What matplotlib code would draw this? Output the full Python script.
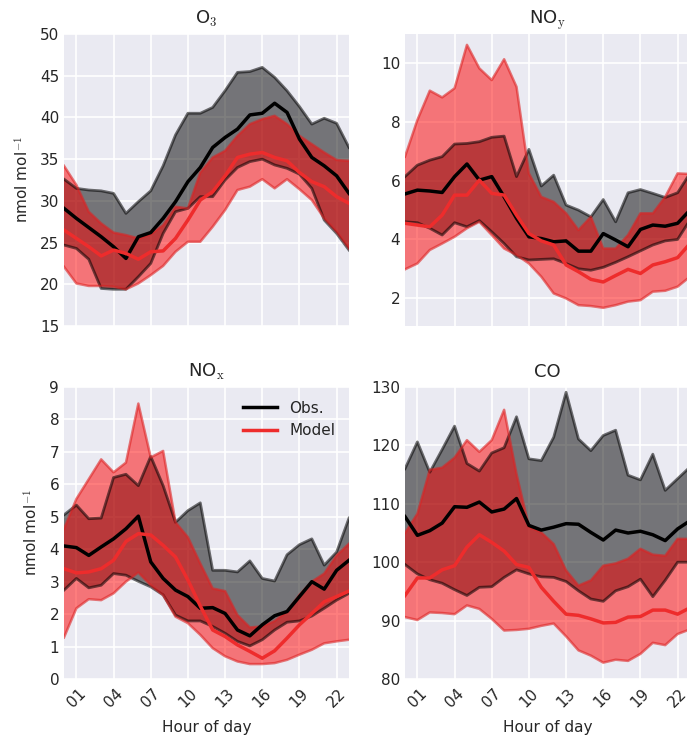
import numpy as np
import matplotlib
matplotlib.use("Agg")
import matplotlib.pyplot as plt

# ---------------------------------------------------------------------
# diurnal cycles (hour 0..23): obs / model, lower bound, median, upper
# ---------------------------------------------------------------------
hours = np.arange(24)
tick_hours = [1, 4, 7, 10, 13, 16, 19, 22]
tick_labels = ["01", "04", "07", "10", "13", "16", "19", "22"]

o3_obs_lo = [24.7, 24.3, 23.0, 19.5, 19.4, 19.4, 20.9, 22.5, 26.1, 28.7, 29.1, 30.5,
             30.5, 32.5, 34.0, 34.7, 35.0, 34.3, 33.9, 33.2, 31.5, 27.7, 26.1, 24.1]
o3_obs_med = [29.1, 27.9, 26.8, 25.7, 24.5, 23.1, 25.7, 26.2, 27.9, 29.9, 32.3, 34.0,
              36.4, 37.6, 38.6, 40.3, 40.5, 41.7, 40.6, 37.4, 35.2, 34.2, 33.0, 30.9]
o3_obs_hi = [32.6, 31.5, 31.3, 31.2, 30.9, 28.5, 29.9, 31.2, 34.2, 37.9, 40.5, 40.5,
             41.2, 43.2, 45.4, 45.5, 46.0, 44.8, 43.2, 41.3, 39.2, 39.9, 39.3, 36.4]
o3_mod_lo = [22.1, 20.1, 19.8, 19.8, 19.7, 19.4, 20.1, 21.1, 22.2, 23.9, 25.1, 25.1,
             26.9, 28.9, 31.3, 31.7, 32.6, 31.5, 32.6, 31.4, 30.1, 27.9, 26.3, 24.3]
o3_mod_med = [26.5, 25.5, 24.5, 23.4, 24.1, 23.7, 23.0, 23.9, 24.0, 25.5, 27.7, 30.1,
              31.1, 33.0, 35.2, 35.6, 35.8, 35.2, 34.8, 33.4, 32.3, 31.7, 30.5, 29.7]
o3_mod_hi = [34.2, 31.9, 28.7, 27.3, 26.2, 25.9, 25.5, 26.0, 27.1, 29.3, 29.1, 33.4,
             35.2, 36.0, 37.8, 39.2, 39.8, 40.2, 39.2, 37.8, 36.8, 35.8, 34.9, 34.8]

noy_obs_lo = [4.60, 4.57, 4.38, 4.15, 4.57, 4.43, 4.64, 4.26, 3.86, 3.41, 3.30, 3.32,
              3.34, 3.18, 3.00, 2.95, 3.05, 3.22, 3.41, 3.61, 3.81, 3.95, 4.00, 4.66]
noy_obs_med = [5.55, 5.68, 5.65, 5.60, 6.14, 6.57, 6.02, 6.14, 5.45, 4.72, 4.09, 4.03,
               3.92, 3.95, 3.60, 3.60, 4.20, 3.98, 3.75, 4.34, 4.49, 4.45, 4.55, 5.00]
noy_obs_hi = [6.14, 6.53, 6.70, 6.82, 7.25, 7.27, 7.33, 7.48, 7.52, 6.14, 7.07, 5.82,
              6.19, 5.17, 5.00, 4.77, 5.36, 4.60, 5.59, 5.70, 5.57, 5.43, 5.59, 6.25]
noy_mod_lo = [2.98, 3.18, 3.64, 3.86, 4.09, 4.38, 4.60, 4.15, 3.69, 3.47, 3.18, 2.73,
              2.16, 1.99, 1.76, 1.73, 1.67, 1.76, 1.88, 1.93, 2.22, 2.25, 2.39, 2.73]
noy_mod_med = [4.55, 4.49, 4.43, 4.83, 5.51, 5.51, 6.02, 5.57, 5.51, 4.83, 4.20, 3.95,
               3.81, 3.13, 2.90, 2.64, 2.55, 2.77, 2.98, 2.84, 3.13, 3.24, 3.38, 3.86]
noy_mod_hi = [6.82, 8.07, 9.07, 8.84, 9.15, 10.63, 9.83, 9.43, 10.14, 9.20, 6.25, 5.45,
              5.28, 4.89, 4.32, 4.77, 3.69, 3.69, 4.15, 4.89, 4.89, 5.45, 6.25, 6.23]

nox_obs_lo = [2.74, 3.10, 2.81, 2.89, 3.25, 3.20, 3.01, 2.84, 2.59, 1.97, 1.79, 1.79,
              1.62, 1.41, 1.16, 1.02, 1.21, 1.51, 1.75, 1.79, 1.94, 2.18, 2.43, 2.64]
nox_obs_med = [4.10, 4.05, 3.81, 4.07, 4.32, 4.63, 5.02, 3.61, 3.10, 2.74, 2.54, 2.18,
               2.20, 2.02, 1.51, 1.33, 1.67, 1.95, 2.08, 2.54, 3.00, 2.77, 3.35, 3.66]
nox_obs_hi = [5.06, 5.36, 4.94, 4.96, 6.21, 6.31, 5.96, 6.86, 5.96, 4.83, 5.19, 5.43,
              3.35, 3.35, 3.30, 3.64, 3.10, 3.02, 3.83, 4.14, 4.32, 3.51, 3.91, 4.96]
nox_mod_lo = [1.28, 2.18, 2.46, 2.43, 2.64, 3.00, 3.28, 2.89, 2.59, 1.92, 1.72, 1.36,
              0.95, 0.70, 0.54, 0.46, 0.46, 0.49, 0.59, 0.75, 0.90, 1.10, 1.16, 1.21]
nox_mod_med = [3.40, 3.27, 3.30, 3.40, 3.66, 4.24, 4.48, 4.44, 4.12, 3.76, 3.05, 2.25,
               1.51, 1.31, 1.05, 0.85, 0.64, 0.87, 1.26, 1.67, 2.02, 2.38, 2.54, 2.71]
nox_mod_hi = [4.63, 5.55, 6.16, 6.77, 6.37, 6.67, 8.49, 6.83, 7.03, 4.83, 4.37, 3.56,
              2.79, 2.71, 1.97, 1.59, 1.62, 1.79, 2.08, 2.59, 3.00, 3.25, 3.81, 4.17]

co_obs_lo = [99.6, 98.0, 97.0, 96.4, 95.3, 94.3, 95.7, 95.8, 97.4, 98.7, 98.0, 97.5,
             97.4, 96.7, 95.1, 93.7, 93.3, 95.1, 95.8, 97.1, 94.1, 96.9, 100.0, 100.0]
co_obs_med = [107.8, 104.6, 105.4, 106.7, 109.5, 109.4, 110.3, 108.6, 109.1, 110.9, 106.3, 105.5,
              106.0, 106.6, 106.5, 105.1, 103.8, 105.5, 105.0, 105.3, 104.7, 103.7, 105.7, 107.1]
co_obs_hi = [116.0, 120.6, 115.4, 119.3, 123.3, 116.9, 115.6, 118.7, 119.6, 124.9, 117.7, 117.4,
             121.4, 129.1, 121.1, 119.1, 121.7, 122.6, 114.9, 114.1, 118.5, 112.3, 114.3, 116.3]
co_mod_lo = [90.6, 90.1, 91.4, 91.3, 91.1, 92.6, 92.0, 90.3, 88.3, 88.4, 88.6, 89.1,
             89.5, 87.3, 84.9, 84.0, 82.8, 83.3, 83.1, 84.3, 86.2, 85.8, 87.7, 88.5]
co_mod_med = [94.3, 97.3, 97.3, 98.7, 99.4, 102.6, 104.7, 103.4, 101.9, 99.6, 99.1, 95.7,
              93.3, 91.1, 90.9, 90.3, 89.6, 89.7, 90.6, 90.7, 91.8, 91.8, 91.1, 92.2]
co_mod_hi = [105.0, 108.3, 115.8, 116.2, 117.9, 120.9, 118.9, 120.9, 126.1, 115.1, 106.1, 105.1,
             103.1, 98.6, 96.0, 96.9, 99.4, 99.8, 100.6, 102.3, 101.3, 101.1, 104.0, 104.0]

# darkgrid-ish look
plt.rcParams.update({
    "axes.facecolor": "#EAEAF2",
    "axes.edgecolor": "white",
    "axes.grid": True,
    "grid.color": "white",
    "grid.linewidth": 1.2,
    "axes.axisbelow": True,
    "xtick.major.size": 0,
    "ytick.major.size": 0,
    "xtick.labelsize": 11,
    "ytick.labelsize": 11,
    "axes.labelsize": 11,
    "axes.titlesize": 13,
    "mathtext.fontset": "cm",
    "text.color": "#262626",
    "axes.labelcolor": "#262626",
    "xtick.color": "#262626",
    "ytick.color": "#262626",
})

OBS_COL = "black"
MOD_COL = "#ee2c2c"

fig = plt.figure(figsize=(6.87, 7.38), dpi=100)
w, h = 285 / 687, 292 / 738
left_x, right_x = 64 / 687, 405 / 687
top_y, bot_y = 1 - 326 / 738, 1 - 679 / 738

panels = [
    ("O$_3$", (left_x, top_y), (15, 50), np.arange(15, 51, 5),
     o3_obs_lo, o3_obs_med, o3_obs_hi, o3_mod_lo, o3_mod_med, o3_mod_hi),
    ("NO$_\\mathrm{y}$", (right_x, top_y), (1.05, 11.0), np.arange(2, 11, 2),
     noy_obs_lo, noy_obs_med, noy_obs_hi, noy_mod_lo, noy_mod_med, noy_mod_hi),
    ("NO$_\\mathrm{x}$", (left_x, bot_y), (0, 9), np.arange(0, 10, 1),
     nox_obs_lo, nox_obs_med, nox_obs_hi, nox_mod_lo, nox_mod_med, nox_mod_hi),
    ("CO", (right_x, bot_y), (80, 130), np.arange(80, 131, 10),
     co_obs_lo, co_obs_med, co_obs_hi, co_mod_lo, co_mod_med, co_mod_hi),
]

for i, (title, pos, ylim, yticks, olo, omed, ohi, mlo, mmed, mhi) in enumerate(panels):
    ax = fig.add_axes([pos[0], pos[1], w, h])
    for s in ax.spines.values():
        s.set_visible(False)

    ax.fill_between(hours, olo, ohi, facecolor="black", alpha=0.5, lw=0)
    ax.fill_between(hours, mlo, mhi, facecolor="red", alpha=0.5, lw=0)
    ax.plot(hours, olo, color="black", alpha=0.55, lw=2)
    ax.plot(hours, ohi, color="black", alpha=0.55, lw=2)
    ax.plot(hours, mlo, color="#dd2222", alpha=0.6, lw=1.8)
    ax.plot(hours, mhi, color="#dd2222", alpha=0.6, lw=1.8)
    ax.plot(hours, omed, color=OBS_COL, lw=2.5, label="Obs.")
    ax.plot(hours, mmed, color=MOD_COL, lw=2.5, label="Model")

    ax.set_xlim(0, 23)
    ax.set_ylim(*ylim)
    ax.set_yticks(yticks)
    ax.set_xticks(tick_hours)
    ax.set_title(title, pad=7)

    if pos[1] == bot_y:
        ax.set_xticklabels(tick_labels, rotation=45)
        ax.tick_params(axis="x", pad=5)
        ax.set_xlabel("Hour of day", labelpad=7)
    else:
        ax.set_xticklabels([])
    if pos[0] == left_x:
        ax.set_ylabel("nmol mol$^{-1}$", labelpad=6)
    if i == 2:
        ax.legend(loc="upper right", frameon=False, fontsize=11,
                  handlelength=2.2, borderaxespad=0.5)

fig.savefig("out.png", dpi=100)
